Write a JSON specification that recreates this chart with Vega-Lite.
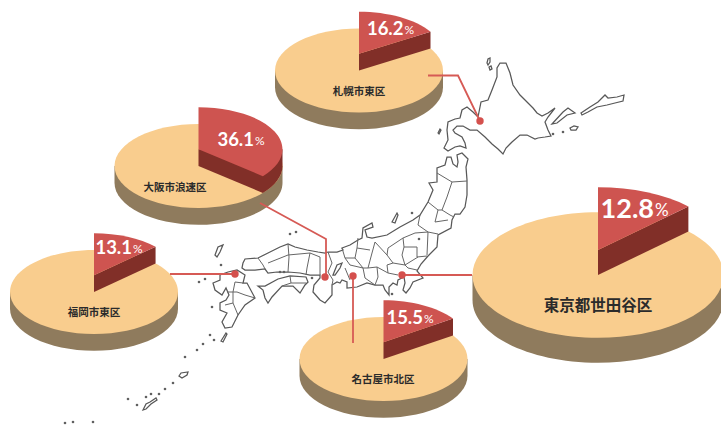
{"$schema":"https://vega.github.io/schema/vega-lite/v6.json","width":721,"height":425,"padding":0,"autosize":{"type":"none"},"background":"#ffffff","config":{"view":{"stroke":null}},
"datasets":{
"parts":[
{"city":"札幌市東区","x":359,"y":70.5,"radius":84,"face":"side","part":"side"},{"city":"札幌市東区","x":359,"y":70.5,"radius":84,"face":"top","part":"top"},{"city":"札幌市東区","x":359,"y":70.5,"radius":84,"face":"wall","part":"w16.2"},{"city":"札幌市東区","x":359,"y":70.5,"radius":84,"face":"slice","part":"s16.2"},
{"city":"大阪市浪速区","x":198.5,"y":166,"radius":84,"face":"side","part":"side"},{"city":"大阪市浪速区","x":198.5,"y":166,"radius":84,"face":"top","part":"top"},{"city":"大阪市浪速区","x":198.5,"y":166,"radius":84,"face":"wall","part":"w36.1"},{"city":"大阪市浪速区","x":198.5,"y":166,"radius":84,"face":"slice","part":"s36.1"},
{"city":"福岡市東区","x":94,"y":292,"radius":84,"face":"side","part":"side"},{"city":"福岡市東区","x":94,"y":292,"radius":84,"face":"top","part":"top"},{"city":"福岡市東区","x":94,"y":292,"radius":84,"face":"wall","part":"w13.1"},{"city":"福岡市東区","x":94,"y":292,"radius":84,"face":"slice","part":"s13.1"},
{"city":"名古屋市北区","x":383.5,"y":359,"radius":84,"face":"side","part":"side"},{"city":"名古屋市北区","x":383.5,"y":359,"radius":84,"face":"top","part":"top"},{"city":"名古屋市北区","x":383.5,"y":359,"radius":84,"face":"wall","part":"w15.5"},{"city":"名古屋市北区","x":383.5,"y":359,"radius":84,"face":"slice","part":"s15.5"},
{"city":"東京都世田谷区","x":598,"y":275,"radius":125.5,"face":"side","part":"side"},{"city":"東京都世田谷区","x":598,"y":275,"radius":125.5,"face":"top","part":"top"},{"city":"東京都世田谷区","x":598,"y":275,"radius":125.5,"face":"wall","part":"w12.8"},{"city":"東京都世田谷区","x":598,"y":275,"radius":125.5,"face":"slice","part":"s12.8"}
],
"cities":[
{"city":"札幌市東区","share":16.2,"radius":84,"numX":403.5,"numY":29,"nameX":359,"nameY":92},
{"city":"大阪市浪速区","share":36.1,"radius":84,"numX":254,"numY":139.5,"nameX":175,"nameY":188},
{"city":"福岡市東区","share":13.1,"radius":84,"numX":132,"numY":248,"nameX":94,"nameY":313},
{"city":"名古屋市北区","share":15.5,"radius":84,"numX":423,"numY":317.5,"nameX":383,"nameY":380},
{"city":"東京都世田谷区","share":12.8,"radius":125.5,"numX":654,"numY":210,"nameX":598,"nameY":306}
],
"links":[
{"city":"札幌","x":428,"y":75.5},{"city":"札幌","x":458,"y":75.5},{"city":"札幌","x":480,"y":121},
{"city":"大阪","x":260,"y":203},{"city":"大阪","x":326,"y":239},{"city":"大阪","x":326,"y":277},
{"city":"福岡","x":170,"y":274},{"city":"福岡","x":235,"y":274},
{"city":"名古屋","x":353,"y":343},{"city":"名古屋","x":353,"y":276},
{"city":"東京","x":472,"y":275},{"city":"東京","x":402,"y":275}
],
"dots":[{"x":480,"y":121},{"x":325,"y":277},{"x":235,"y":274},{"x":353,"y":276},{"x":402,"y":275}],
"specks":[{"x":553,"y":134},{"x":563,"y":132},{"x":412,"y":213},{"x":419,"y":239},{"x":392,"y":294},{"x":290,"y":234},{"x":296,"y":232},{"x":221,"y":265},{"x":205,"y":279},{"x":199,"y":282},{"x":210,"y":335},{"x":214,"y":340},{"x":203,"y":344},{"x":197,"y":350},{"x":185,"y":357},{"x":173,"y":383},{"x":165,"y":389},{"x":159,"y":394},{"x":151,"y":394},{"x":146,"y":397},{"x":128,"y":399},{"x":137,"y":405},{"x":65,"y":423},{"x":73,"y":422},{"x":93,"y":422},{"x":280,"y":272},{"x":284,"y":272},{"x":312,"y":278},{"x":212,"y":307}],
"land":[
{"type":"Feature","properties":{"name":"北海道"},"geometry":{"type":"Polygon","coordinates":[[[500,63],[506,63],[510,73],[513,85],[520,95],[528,103],[533,108],[537,113],[542,116],[548,113],[555,108],[548,117],[545,122],[548,130],[551,136],[545,137],[538,138],[535,139],[527,135],[520,135],[512,142],[506,148],[503,154],[498,149],[492,144],[485,137],[477,130],[470,130],[463,126],[457,126],[453,130],[455,133],[462,137],[465,143],[466,148],[460,146],[455,147],[448,151],[444,148],[448,140],[447,130],[448,122],[455,119],[460,118],[462,110],[467,107],[473,112],[478,117],[481,102],[488,100],[492,90],[497,77],[497,68],[500,63]]]}},
{"type":"Feature","properties":{"name":"千島"},"geometry":{"type":"MultiPolygon","coordinates":[[[[552,124],[563,112],[568,108],[575,113],[567,115],[557,123],[552,124]]],[[[581,113],[590,107],[598,102],[605,95],[608,98],[617,97],[624,95],[623,101],[615,103],[607,105],[597,107],[588,112],[582,115],[581,113]]],[[[570,128],[574,126],[578,127],[576,130],[571,130],[570,128]]],[[[487,63],[488,59],[490,58],[490,62],[488,65],[487,63]]],[[[489,67],[491,66],[492,69],[490,70],[489,67]]],[[[438,133],[440,129],[441,130],[439,134],[438,133]]]]}},
{"type":"Feature","properties":{"name":"本州"},"geometry":{"type":"Polygon","coordinates":[[[447,157],[451,157],[453,164],[457,167],[458,162],[457,155],[462,153],[468,159],[466,167],[467,180],[467,195],[465,207],[460,214],[455,214],[452,220],[451,228],[438,235],[437,247],[428,256],[421,264],[417,271],[423,278],[413,282],[410,288],[406,293],[403,290],[405,283],[404,277],[398,280],[397,285],[393,283],[389,287],[389,295],[385,290],[383,285],[375,285],[367,283],[357,287],[347,288],[347,282],[342,280],[340,283],[337,282],[332,285],[332,295],[325,303],[320,300],[313,292],[314,285],[320,278],[320,275],[310,275],[300,273],[288,272],[277,272],[268,273],[265,269],[255,270],[245,270],[242,268],[243,263],[245,259],[258,258],[268,253],[280,247],[288,244],[295,247],[307,250],[318,252],[325,253],[328,252],[337,252],[343,250],[342,248],[350,245],[358,240],[362,238],[363,228],[372,223],[373,227],[365,230],[367,237],[372,238],[387,235],[400,227],[413,220],[420,215],[428,202],[433,190],[429,183],[437,182],[437,168],[445,165],[447,157]]]}},
{"type":"Feature","properties":{"name":"四国"},"geometry":{"type":"Polygon","coordinates":[[[258,286],[265,286],[278,279],[290,276],[306,277],[308,282],[305,285],[300,293],[293,286],[282,286],[272,297],[268,303],[265,298],[263,290],[258,286]]]}},
{"type":"Feature","properties":{"name":"九州"},"geometry":{"type":"Polygon","coordinates":[[[228,272],[237,270],[245,275],[243,283],[247,283],[255,298],[245,305],[238,315],[232,327],[225,328],[222,322],[227,313],[220,310],[220,303],[226,300],[229,295],[226,288],[222,295],[215,290],[213,283],[220,280],[220,275],[228,272]]]}},
{"type":"Feature","properties":{"name":"離島"},"geometry":{"type":"MultiPolygon","coordinates":[[[[392,222],[397,213],[398,215],[395,223],[392,222]]],[[[333,275],[337,265],[342,263],[340,268],[335,275],[333,275]]],[[[215,255],[218,247],[223,245],[220,252],[217,257],[215,255]]],[[[221,341],[226,333],[227,334],[223,342],[221,341]]],[[[179,376],[181,373],[188,372],[187,375],[182,378],[179,376]]],[[[143,410],[146,404],[150,402],[156,398],[157,400],[151,404],[146,409],[143,410]]]]}}
],
"borders":[
{"type":"Feature","properties":{"name":"県境"},"geometry":{"type":"MultiLineString","coordinates":[
[[437,173],[452,182],[467,181]],[[452,182],[447,197],[442,210]],[[442,210],[450,215],[454,217]],[[428,202],[438,210],[442,210]],[[438,210],[435,222],[448,220]],[[420,215],[418,225],[428,232]],[[428,232],[438,234]],
[[403,238],[415,233],[428,232]],[[428,232],[427,255]],[[403,238],[404,247],[402,255],[405,265]],[[404,247],[417,247],[417,257],[427,256]],[[405,265],[418,257]],[[405,265],[408,268],[417,270]],
[[403,238],[388,248],[387,255],[393,263],[405,265]],[[393,263],[387,265],[388,273],[398,275]],[[388,273],[377,267],[378,277],[375,285]],[[387,255],[375,242],[372,253],[368,268]],[[358,238],[357,248],[370,250]],[[342,248],[345,258],[355,258],[357,248]],[[355,258],[363,268],[368,268],[377,267]],[[363,268],[365,278],[375,285]],[[345,258],[350,265],[363,268]],[[345,268],[350,280]],
[[258,258],[263,265],[265,269]],[[288,244],[289,257],[288,272]],[[288,255],[310,253],[307,268],[306,275]],[[310,253],[320,257],[320,275]],[[328,252],[332,263],[328,272],[333,280],[332,285]],[[268,263],[288,255]],
[[235,282],[243,283]],[[227,292],[237,292],[245,295],[255,298]],[[235,282],[233,292],[233,303],[238,315]],[[233,303],[225,305]],[[290,276],[291,283],[300,283],[306,283]],[[291,283],[282,286]]
]}}
]},
"layer":[
{"data":{"name":"land"},"mark":{"type":"geoshape","fill":"#ffffff","stroke":"#585858","strokeWidth":1.25},"projection":{"type":"identity","scale":1,"translate":[0,0]}},
{"data":{"name":"borders"},"mark":{"type":"geoshape","filled":false,"fill":null,"stroke":"#666666","strokeWidth":1},"projection":{"type":"identity","scale":1,"translate":[0,0]}},
{"data":{"name":"specks"},"mark":{"type":"point","filled":true,"opacity":1,"color":"#606060","size":7},"encoding":{"x":{"field":"x","type":"quantitative","scale":{"domain":[0,721],"nice":false,"zero":false},"axis":null},"y":{"field":"y","type":"quantitative","scale":{"domain":[425,0],"nice":false,"zero":false},"axis":null}}},
{"data":{"name":"parts"},"mark":{"type":"point","filled":true,"opacity":1,"strokeWidth":0},"encoding":{"x":{"field":"x","type":"quantitative","axis":null},"y":{"field":"y","type":"quantitative","axis":null},
"size":{"field":"radius","type":"quantitative","legend":null,"scale":{"type":"pow","exponent":2,"domain":[0,126],"range":[0,63504]}},
"fill":{"field":"face","type":"nominal","legend":null,"scale":{"domain":["side","top","wall","slice"],"range":["#8f7b5d","#f9cd8e","#812f28","#ce5450"]}},
"shape":{"field":"part","type":"nominal","legend":null,"scale":{"domain":["side","top","w16.2","s16.2","w36.1","s36.1","w13.1","s13.1","w15.5","s15.5","w12.8","s12.8"],"range":[
"M-1 0 L-1 0.2 A1 0.5 0 0 0 1 0.2 L1 0 Z",
"M-1 0 A1 0.5 0 1 1 1 0 A1 0.5 0 1 1 -1 0 Z",
"M0 -0.2 L0 0 L0.851 -0.2625 L0.851 -0.4625 Z",
"M0 -0.2 L0 -0.7 A1 0.5 0 0 1 0.851 -0.4625 Z",
"M0 -0.2 L0 0 L0.7665 0.321 A1 0.5 0 0 0 1 0 L1 -0.2 Z",
"M0 -0.2 L0 -0.7 A1 0.5 0 0 1 0.7665 0.121 Z",
"M0 -0.2 L0 0 L0.7331 -0.34 L0.7331 -0.54 Z",
"M0 -0.2 L0 -0.7 A1 0.5 0 0 1 0.7331 -0.54 Z",
"M0 -0.2 L0 0 L0.8271 -0.281 L0.8271 -0.481 Z",
"M0 -0.2 L0 -0.7 A1 0.5 0 0 1 0.8271 -0.481 Z",
"M0 -0.2 L0 0 L0.7203 -0.3468 L0.7203 -0.5468 Z",
"M0 -0.2 L0 -0.7 A1 0.5 0 0 1 0.7203 -0.5468 Z"
]}}}},
{"data":{"name":"links"},"mark":{"type":"line","color":"#d65a55","strokeWidth":1.8},"encoding":{"x":{"field":"x","type":"quantitative","axis":null},"y":{"field":"y","type":"quantitative","axis":null},"detail":{"field":"city"},"order":{"value":null}}},
{"data":{"name":"dots"},"mark":{"type":"point","filled":true,"opacity":1,"color":"#d4504d","size":55},"encoding":{"x":{"field":"x","type":"quantitative","axis":null},"y":{"field":"y","type":"quantitative","axis":null}}},
{"data":{"name":"cities"},"mark":{"type":"text","font":"Lato","fontWeight":"bold","color":"#ffffff","align":"right","baseline":"middle"},"encoding":{"x":{"field":"numX","type":"quantitative","axis":null},"y":{"field":"numY","type":"quantitative","axis":null},"text":{"field":"share","type":"quantitative","format":".1f"},"size":{"field":"radius","type":"quantitative","legend":null,"scale":{"type":"linear","domain":[84,125.5],"range":[18.5,27]}}}},
{"data":{"name":"cities"},"transform":[{"calculate":"'%'","as":"unit"}],"mark":{"type":"text","font":"Lato","color":"#ffffff","align":"left","baseline":"middle","dx":1,"dy":1},"encoding":{"x":{"field":"numX","type":"quantitative","axis":null},"y":{"field":"numY","type":"quantitative","axis":null},"text":{"field":"unit"},"size":{"field":"radius","type":"quantitative","legend":null,"scale":{"type":"linear","domain":[84,125.5],"range":[12,17]}}}},
{"data":{"name":"cities"},"mark":{"type":"text","font":"Noto Sans CJK JP","fontWeight":"bold","color":"#2b2b2b","align":"center","baseline":"middle"},"encoding":{"x":{"field":"nameX","type":"quantitative","axis":null},"y":{"field":"nameY","type":"quantitative","axis":null},"text":{"field":"city"},"size":{"field":"radius","type":"quantitative","legend":null,"scale":{"type":"linear","domain":[84,125.5],"range":[10.5,15.5]}}}}
],
"resolve":{"scale":{"size":"independent"}}}
